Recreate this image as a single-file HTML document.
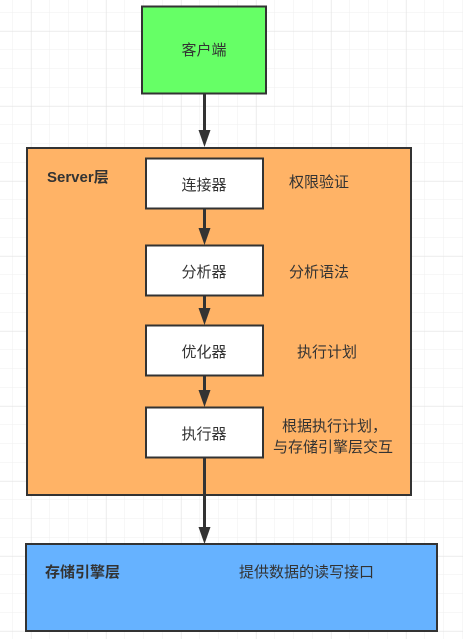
<!DOCTYPE html>
<html><head><meta charset="utf-8"><style>
html,body{margin:0;padding:0;background:#fff;}
svg{display:block;}
text{font-family:"Liberation Sans","Noto Sans CJK SC",sans-serif;font-size:15px;fill:#333;}
</style></head><body>
<svg width="463" height="639" viewBox="0 0 463 639" xmlns="http://www.w3.org/2000/svg">
<defs>
<pattern id="g" x="12" y="12" width="18.75" height="18.75" patternUnits="userSpaceOnUse">
<path d="M0 0H18.75M0 0V18.75" stroke="#efefef" stroke-width="1" fill="none"/>
</pattern>
<pattern id="G" x="31" y="31" width="75" height="75" patternUnits="userSpaceOnUse">
<path d="M0 0H75M0 0V75" stroke="#e0e0e0" stroke-width="1" fill="none"/>
</pattern>
</defs>
<rect width="463" height="639" fill="#fff"/>
<rect width="463" height="639" fill="url(#g)"/>
<rect width="463" height="639" fill="url(#G)"/>

<rect x="142" y="6.5" width="124" height="87" fill="#66ff66" stroke="#333" stroke-width="2"/>
<text x="204" y="55" text-anchor="middle">客户端</text>

<rect x="27" y="148" width="384" height="347" fill="#ffb366" stroke="#333" stroke-width="2"/>
<text x="47" y="182" style="font-weight:bold">Server层</text>

<rect x="146" y="158.5" width="117" height="50" fill="#fff" stroke="#333" stroke-width="2"/>
<text x="204" y="190" text-anchor="middle">连接器</text>
<text x="289" y="187">权限验证</text>

<rect x="146" y="245.5" width="117" height="50" fill="#fff" stroke="#333" stroke-width="2"/>
<text x="204" y="277" text-anchor="middle">分析器</text>
<text x="289" y="277">分析语法</text>

<rect x="146" y="325.5" width="117" height="50" fill="#fff" stroke="#333" stroke-width="2"/>
<text x="204" y="357" text-anchor="middle">优化器</text>
<text x="297" y="357">执行计划</text>

<rect x="146" y="407.5" width="117" height="50" fill="#fff" stroke="#333" stroke-width="2"/>
<text x="204" y="439" text-anchor="middle">执行器</text>
<text x="282" y="431">根据执行计划，</text>
<text x="273" y="452">与存储引擎层交互</text>

<rect x="26" y="544" width="411" height="87" fill="#66b2ff" stroke="#333" stroke-width="2"/>
<text x="45" y="577" style="font-weight:bold">存储引擎层</text>
<text x="239" y="577">提供数据的读写接口</text>

<g stroke="#333" stroke-width="3" fill="none">
<line x1="204.5" y1="94" x2="204.5" y2="133"/>
<line x1="204.5" y1="209" x2="204.5" y2="231"/>
<line x1="204.5" y1="296" x2="204.5" y2="311"/>
<line x1="204.5" y1="376" x2="204.5" y2="393"/>
<line x1="204.5" y1="458" x2="204.5" y2="530"/>
</g>
<g fill="#333">
<polygon points="198.5,130 210.5,130 204.5,147"/>
<polygon points="198.5,228 210.5,228 204.5,245"/>
<polygon points="198.5,308 210.5,308 204.5,325"/>
<polygon points="198.5,390 210.5,390 204.5,407"/>
<polygon points="198.5,527 210.5,527 204.5,544"/>
</g>
</svg>
</body></html>
